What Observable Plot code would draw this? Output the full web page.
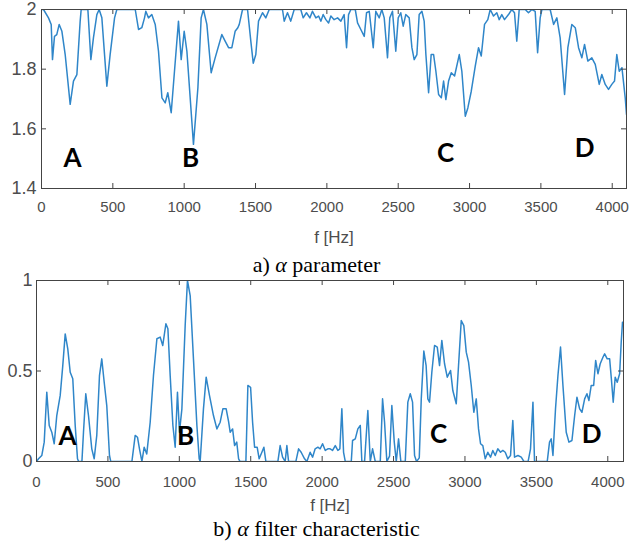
<!DOCTYPE html>
<html><head><meta charset="utf-8">
<script src="https://cdn.jsdelivr.net/npm/d3@7"></script>
<script src="https://cdn.jsdelivr.net/npm/@observablehq/plot@0.6"></script>
<style>
body{margin:0;background:#fff;}
#wrap{position:relative;width:633px;height:547px;overflow:hidden;background:#fff;}
.panel{position:absolute;left:0;}
.cap{position:absolute;left:0;width:633px;text-align:center;font-family:"Liberation Serif","Times New Roman",serif;font-size:22px;line-height:24px;color:#000;}
</style></head><body>
<div id="wrap">
<div id="pa" class="panel" style="top:0"></div>
<div id="pb" class="panel" style="top:250px"></div>
<div class="cap" style="top:253px">a) <i>α</i> parameter</div>
<div class="cap" style="top:517px">b) <i>α</i> filter characteristic</div>
</div>
<script>
// ---- data: panel a (alpha parameter) ----
const freqA = [0,14,49,68,77,91,107,124,143,166,201,224,248,271,278,325,346,364,388,404,423,458,481,512,528,657,680,703,722,731,750,773,797,820,844,867,885,909,932,960,979,1000,1019,1065,1096,1119,1135,1159,1189,1217,1264,1287,1311,1334,1357,1376,1386,1409,1444,1467,1484,1502,1521,1549,1572,1596,1689,1701,1724,1747,1771,1817,1834,1857,1881,1899,1923,1942,1958,1974,1993,2012,2028,2051,2075,2098,2121,2138,2152,2168,2199,2215,2238,2262,2278,2297,2325,2343,2367,2385,2402,2425,2441,2460,2483,2500,2518,2535,2553,2577,2596,2612,2631,2647,2666,2682,2694,2713,2731,2748,2764,2783,2802,2818,2834,2853,2872,2895,2928,2946,2970,2988,3012,3040,3063,3082,3105,3128,3145,3168,3191,3208,3226,3245,3273,3296,3315,3331,3348,3390,3413,3437,3460,3477,3495,3507,3565,3589,3612,3635,3666,3689,3717,3741,3764,3787,3806,3829,3857,3881,3909,3927,3951,3974,3997,4016,4032,4049,4068,4091,4100];
const alphaA = [2.0,2.0,1.972,1.95,1.832,1.91,1.916,1.95,1.927,1.849,1.682,1.76,1.782,1.961,2.0,2.0,1.832,1.905,1.983,2.0,1.972,1.743,1.849,1.972,2.0,2.0,1.933,1.939,1.972,1.994,1.972,1.983,1.95,1.86,1.704,1.687,1.721,1.654,1.793,1.961,1.832,1.927,1.86,1.548,1.737,1.972,2.0,1.95,1.788,1.838,1.916,1.894,1.872,1.872,1.927,1.939,1.95,2.0,2.0,1.894,1.82,1.849,1.961,1.989,1.972,2.0,2.0,1.961,1.989,1.961,2.0,2.0,1.972,1.989,1.972,1.994,1.972,1.978,1.961,1.983,1.966,1.955,1.978,1.966,1.972,1.961,1.983,1.872,1.983,2.0,2.0,1.955,1.933,1.91,1.989,1.994,1.872,1.994,1.972,2.0,1.972,1.838,1.972,1.994,1.86,1.972,1.989,1.944,1.983,1.972,1.872,1.832,1.849,1.983,1.994,1.961,1.849,1.721,1.849,1.849,1.793,1.715,1.704,1.76,1.698,1.76,1.788,1.777,1.849,1.793,1.642,1.67,1.726,1.81,1.872,1.844,1.95,1.966,2.0,1.978,1.989,1.966,1.983,1.966,1.983,2.0,1.989,1.894,2.0,2.0,1.989,2.0,1.994,1.855,1.972,2.0,2.0,1.95,1.972,1.905,1.715,1.872,1.95,1.939,1.872,1.838,1.883,1.827,1.838,1.816,1.749,1.782,1.749,1.732,1.749,1.76,1.849,1.793,1.805,1.704,1.648];

// ---- data: panel b (alpha filter characteristic) ----
const freqB = [0,14,37,54,72,89,107,124,142,166,184,201,219,236,254,271,287,295,318,329,345,364,387,404,422,441,457,474,492,511,520,668,691,707,721,738,754,772,796,819,843,866,884,906,920,936,955,971,987,1001,1018,1041,1057,1076,1099,1123,1139,1146,1169,1188,1211,1239,1263,1286,1305,1328,1345,1356,1373,1387,1402,1415,1425,1466,1480,1499,1513,1527,1545,1559,1578,1592,1606,1690,1706,1723,1741,1753,1765,1816,1835,1853,1877,1893,1916,1933,1951,1970,1986,2003,2022,2040,2056,2073,2092,2110,2124,2138,2150,2162,2204,2213,2232,2250,2267,2278,2297,2320,2337,2353,2372,2407,2423,2437,2453,2472,2488,2505,2519,2535,2551,2582,2600,2617,2633,2647,2661,2680,2694,2712,2728,2740,2752,2768,2787,2806,2822,2838,2857,2876,2899,2915,2939,2955,2974,2992,3009,3025,3044,3062,3079,3095,3109,3125,3142,3160,3179,3195,3212,3230,3249,3265,3282,3300,3319,3335,3347,3371,3394,3413,3442,3459,3476,3487,3576,3592,3604,3616,3634,3651,3669,3686,3709,3728,3749,3768,3784,3803,3819,3838,3854,3868,3884,3901,3915,3931,3947,3966,3978,3996,4013,4025,4038,4052,4066,4083,4094,4103];
const filterB = [0,0.015,0.033,0.107,0.383,0.199,0.162,0.098,0.254,0.365,0.53,0.705,0.622,0.493,0.457,0.199,0.015,0,0,0.162,0.374,0.254,0.07,0.015,0.144,0.475,0.567,0.438,0.309,0.033,0,0,0.144,0.134,0.07,0,0.079,0.042,0.217,0.475,0.678,0.687,0.641,0.761,0.733,0.475,0.199,0.079,0.383,0.162,0.291,0.751,1.0,0.917,0.567,0.199,0.015,0,0.291,0.466,0.365,0.254,0.18,0.217,0.291,0.291,0.22,0.162,0.18,0.088,0.107,0.015,0,0,0.42,0.41,0.217,0.079,0.079,0.015,0.051,0.079,0,0,0.088,0.024,0,0.088,0,0,0.07,0.051,0.015,0,0.051,0.024,0.07,0.079,0.07,0.098,0.061,0.07,0.07,0.061,0.088,0.061,0.07,0.291,0.051,0,0,0.116,0.125,0.18,0.199,0,0,0.282,0,0.07,0,0,0.346,0.217,0,0.03,0.309,0.107,0,0.125,0,0,0.328,0.374,0.328,0.033,0,0.02,0.346,0.61,0.53,0.346,0.328,0.493,0.641,0.632,0.53,0.669,0.54,0.466,0.503,0.392,0.319,0.53,0.779,0.751,0.604,0.549,0.42,0.272,0.346,0.18,0.098,0.088,0.015,0.051,0.024,0.061,0.033,0.07,0.051,0.061,0.051,0.015,0.033,0.227,0.024,0.033,0.024,0,0,0.07,0.328,0,0,0.107,0.125,0.033,0.291,0.475,0.632,0.42,0.162,0.107,0.116,0.254,0.355,0.291,0.272,0.346,0.374,0.337,0.42,0.42,0.558,0.485,0.54,0.576,0.595,0.567,0.567,0.457,0.328,0.466,0.438,0.485,0.659,0.77];

// ---- ticks and annotations ----
const xTicks = [0,500,1000,1500,2000,2500,3000,3500,4000];
const yTicksA = [1.4,1.6,1.8,2];
const yTicksB = [0,0.5,1];
const xLabel = "f [Hz]";
const letters = ["A","B","C","D"];
const letterFreqA = [217,1044,2832,3806];
const letterValA = [1.50,1.50,1.517,1.534];
const letterFreqB = [217,1043,2815,3887];
const letterValB = [0.138,0.138,0.149,0.149];

const LINE = "#2f86c9", FRAME = "#444444", TXT = "#4d4d4d";

function panel(o) {
  const rows = o.freq.map((f, i) => ({f, v: o.vals[i]}));
  const ann = letters.map((t, i) => ({t, f: o.lf[i], v: o.lv[i]}));
  const fw = 633 - o.ml - o.mr, fh = o.height - o.mt - o.mb;
  return Plot.plot({
    width: 633, height: o.height,
    marginLeft: o.ml, marginRight: o.mr, marginTop: o.mt, marginBottom: o.mb,
    style: {background: "transparent", overflow: "visible", fontFamily: "'Liberation Sans', Arial, sans-serif"},
    x: {domain: o.xDomain},
    y: {domain: o.yDomain},
    marks: [
      Plot.line(rows, {x: "f", y: "v", stroke: LINE, strokeWidth: 1.5, clip: true}),
      Plot.frame({stroke: FRAME, strokeWidth: 1}),
      Plot.tickX(xTicks, {x: d => d, stroke: FRAME, insetTop: fh - 5}),
      Plot.tickX(xTicks, {x: d => d, stroke: FRAME, insetBottom: fh - 5}),
      Plot.tickY(o.yTicks, {y: d => d, stroke: FRAME, insetRight: fw - 5}),
      Plot.tickY(o.yTicks, {y: d => d, stroke: FRAME, insetLeft: fw - 5}),
      Plot.axisX({ticks: xTicks, tickSize: 0, tickPadding: o.xPad, tickFormat: d => String(d), fontSize: 15, fill: TXT, label: null}),
      Plot.axisY({ticks: o.yTicks, tickSize: 0, tickPadding: o.yPad, tickFormat: d => String(d), fontSize: 18, fill: TXT, label: null}),
      Plot.text([xLabel], {frameAnchor: "bottom", dy: o.labelDy, text: d => d, fontSize: 17, fill: TXT, lineAnchor: "middle"}),
      Plot.text(ann, {x: "f", y: "v", text: "t", fontSize: 26, fontWeight: 700, fontFamily: "Lato, 'Open Sans', sans-serif", fill: "#000", lineAnchor: "middle"})
    ]
  });
}

document.getElementById("pa").appendChild(panel({
  freq: freqA, vals: alphaA, xDomain: [0, 4100], yDomain: [1.4, 2], yTicks: yTicksA,
  lf: letterFreqA, lv: letterValA,
  height: 250, ml: 41, mr: 7, mt: 9, mb: 62, xPad: 13, yPad: 5, labelDy: 49
}));
document.getElementById("pb").appendChild(panel({
  freq: freqB, vals: filterB, xDomain: [0, 4110], yDomain: [0, 1], yTicks: yTicksB,
  lf: letterFreqB, lv: letterValB,
  height: 270, ml: 36, mr: 10, mt: 30, mb: 59, xPad: 15, yPad: 4, labelDy: 44
}));
</script>
</body></html>
